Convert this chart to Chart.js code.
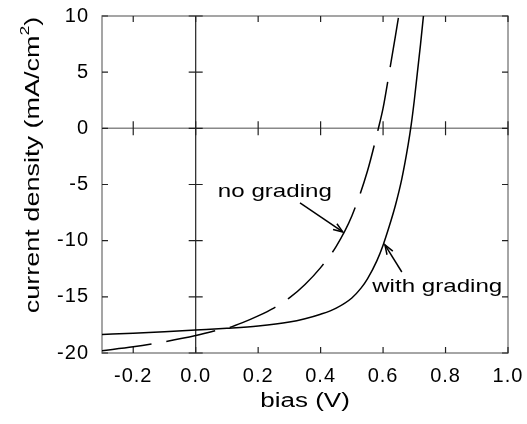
<!DOCTYPE html>
<html>
<head>
<meta charset="utf-8">
<script src="https://cdn.jsdelivr.net/npm/chart.js@4/dist/chart.umd.min.js"></script>
<style>
html,body{margin:0;padding:0;background:#fff;}
#wrap{width:527px;height:424px;}
</style>
</head>
<body>
<div id="wrap"><canvas id="c" width="527" height="424"></canvas></div>
<script>
// ---- data ----
const xTicks = [-0.2, 0.0, 0.2, 0.4, 0.6, 0.8, 1.0];
const yTicks = [-20, -15, -10, -5, 0, 5, 10];

const withGradingV = [-0.3,-0.2,-0.1,0.0,0.1,0.2,0.3,0.35,0.4,0.45,0.5,0.53,0.55,0.58,0.6,0.62,0.64,0.66,0.68,0.69,0.70,0.71,0.72,0.73];
const withGradingJ = [-18.35,-18.25,-18.1,-17.95,-17.8,-17.6,-17.25,-16.95,-16.55,-16.0,-15.1,-14.2,-13.4,-11.8,-10.4,-8.7,-6.8,-4.5,-1.5,0.3,2.5,5.0,7.5,10.2];

const noGradingV = [-0.3,-0.2,-0.1,0.0,0.05,0.1,0.15,0.2,0.25,0.3,0.35,0.4,0.45,0.5,0.55,0.585,0.6,0.62,0.64,0.65];
const noGradingJ = [-19.8,-19.45,-19.0,-18.45,-18.1,-17.8,-17.3,-16.7,-16.0,-15.1,-13.9,-12.4,-10.5,-7.8,-3.8,0.0,1.8,5.0,8.3,10.0];

// annotations (data units)
const noGradingLabel = {text:'no grading', x:0.071, y:-6.1, ax0:0.334, ay0:-6.64, ax1:0.471, ay1:-9.22};
const withGradingLabel = {text:'with grading', x:0.565, y:-14.57, ax0:0.66, ay0:-12.79, ax1:0.606, ay1:-10.38};
const xTitle = 'bias (V)';
const yTitleMain = 'current density (mA/cm', yTitleSup = '2', yTitleTail = ')';

const FONT = '"Liberation Sans", Arial, Helvetica, sans-serif';

function pts(xs, ys){ return xs.map((x,i)=>({x:x, y:ys[i]})); }

function stretchedText(ctx, text, x, y, sx){
  ctx.save();
  ctx.translate(x, y);
  ctx.scale(sx, 1);
  ctx.fillText(text, 0, 0);
  ctx.restore();
}

const decorPlugin = {
  id:'decor',
  beforeDraw(chart){
    chart.ctx.letterSpacing = '1px';
  },
  beforeDatasetsDraw(chart){
    const {ctx, chartArea:a, scales:{x, y}} = chart;
    ctx.save();
    const y0 = y.getPixelForValue(0), x0 = x.getPixelForValue(0);
    ctx.strokeStyle = '#888'; ctx.lineWidth = 1.5;
    ctx.beginPath(); ctx.moveTo(a.left, y0); ctx.lineTo(a.right, y0); ctx.stroke();
    ctx.strokeStyle = '#222'; ctx.lineWidth = 1.2;
    ctx.beginPath(); ctx.moveTo(x0, a.top); ctx.lineTo(x0, a.bottom); ctx.stroke();
    ctx.strokeStyle = '#888'; ctx.lineWidth = 1.5;
    ctx.strokeRect(a.left, a.top, a.right - a.left, a.bottom - a.top);
    ctx.strokeStyle = '#222'; ctx.lineWidth = 1.2;
    const T = 6, C = 7;
    ctx.beginPath();
    xTicks.forEach(v => {
      const px = x.getPixelForValue(v);
      ctx.moveTo(px, a.bottom); ctx.lineTo(px, a.bottom - T);
      ctx.moveTo(px, a.top); ctx.lineTo(px, a.top + T);
      ctx.moveTo(px, y0 - C); ctx.lineTo(px, y0 + C);
    });
    yTicks.forEach(v => {
      const py = y.getPixelForValue(v);
      ctx.moveTo(a.left, py); ctx.lineTo(a.left + T, py);
      ctx.moveTo(a.right, py); ctx.lineTo(a.right - T, py);
      ctx.moveTo(x0 - C, py); ctx.lineTo(x0 + C, py);
    });
    ctx.stroke();
    ctx.restore();
  },
  afterDatasetsDraw(chart){
    const {ctx, chartArea:a, scales:{x, y}} = chart;
    ctx.save();
    ctx.letterSpacing = '0px';
    ctx.fillStyle = '#000';
    ctx.font = '19px ' + FONT;
    ctx.textBaseline = 'alphabetic';
    ctx.textAlign = 'left';
    [noGradingLabel, withGradingLabel].forEach(L => {
      stretchedText(ctx, L.text, x.getPixelForValue(L.x), y.getPixelForValue(L.y), 1.27);
      const sx = x.getPixelForValue(L.ax0), sy = y.getPixelForValue(L.ay0);
      const ex = x.getPixelForValue(L.ax1), ey = y.getPixelForValue(L.ay1);
      ctx.strokeStyle = '#000'; ctx.lineWidth = 1.5;
      ctx.beginPath(); ctx.moveTo(sx, sy); ctx.lineTo(ex, ey); ctx.stroke();
      const ang = Math.atan2(ey - sy, ex - sx), h = 10, w = 0.35;
      ctx.beginPath();
      ctx.moveTo(ex - h*Math.cos(ang - w), ey - h*Math.sin(ang - w));
      ctx.lineTo(ex, ey);
      ctx.lineTo(ex - h*Math.cos(ang + w), ey - h*Math.sin(ang + w));
      ctx.stroke();
    });
    // x-axis title
    ctx.font = '20px ' + FONT;
    const sxT = 1.3;
    const wx = ctx.measureText(xTitle).width * sxT;
    ctx.textBaseline = 'middle';
    stretchedText(ctx, xTitle, (a.left + a.right)/2 - wx/2, 401, sxT);
    // y-axis title with superscript
    ctx.save();
    ctx.translate(33, 165);
    ctx.rotate(-Math.PI/2);
    ctx.scale(1.35, 1);
    ctx.font = '20px ' + FONT;
    const w1 = ctx.measureText(yTitleMain).width, w3 = ctx.measureText(yTitleTail).width;
    ctx.font = '13px ' + FONT;
    const w2 = ctx.measureText(yTitleSup).width;
    const s0 = -(w1 + w2 + w3)/2;
    ctx.font = '20px ' + FONT;
    ctx.fillText(yTitleMain, s0, 0);
    ctx.font = '13px ' + FONT;
    ctx.fillText(yTitleSup, s0 + w1, -8);
    ctx.font = '20px ' + FONT;
    ctx.fillText(yTitleTail, s0 + w1 + w2, 0);
    ctx.restore();
    ctx.restore();
  }
};

new Chart(document.getElementById('c'), {
  type:'scatter',
  data:{
    datasets:[
      {label:'with grading', data:pts(withGradingV, withGradingJ), showLine:true, borderColor:'#000', borderWidth:1.5, pointRadius:0, cubicInterpolationMode:'monotone', fill:false},
      {label:'no grading', data:pts(noGradingV, noGradingJ), showLine:true, borderColor:'#000', borderWidth:1.5, borderDash:[50,15], pointRadius:0, cubicInterpolationMode:'monotone', fill:false}
    ]
  },
  options:{
    responsive:false,
    animation:false,
    clip:true,
    layout:{padding:{top:16, right:19, left:0, bottom:0}},
    plugins:{legend:{display:false}, tooltip:{enabled:false}},
    scales:{
      x:{
        type:'linear', min:-0.3, max:1.0,
        grid:{display:false, drawTicks:false}, border:{display:false},
        afterBuildTicks(s){ s.ticks = xTicks.map(v=>({value:v})); },
        afterFit(s){ s.height = 71; s.paddingLeft = 0; s.paddingRight = 0; },
        ticks:{color:'#000', padding:11, font:{family:FONT, size:20}, maxRotation:0, autoSkip:false, callback:v=>v.toFixed(1)}
      },
      y:{
        type:'linear', min:-20, max:10,
        grid:{display:false, drawTicks:false}, border:{display:false},
        afterBuildTicks(s){ s.ticks = yTicks.map(v=>({value:v})); },
        afterFit(s){ s.width = 102; s.paddingTop = 0; s.paddingBottom = 0; },
        ticks:{color:'#000', padding:13, font:{family:FONT, size:20}, autoSkip:false, callback:v=>String(v)}
      }
    }
  },
  plugins:[decorPlugin]
});
</script>
</body>
</html>
